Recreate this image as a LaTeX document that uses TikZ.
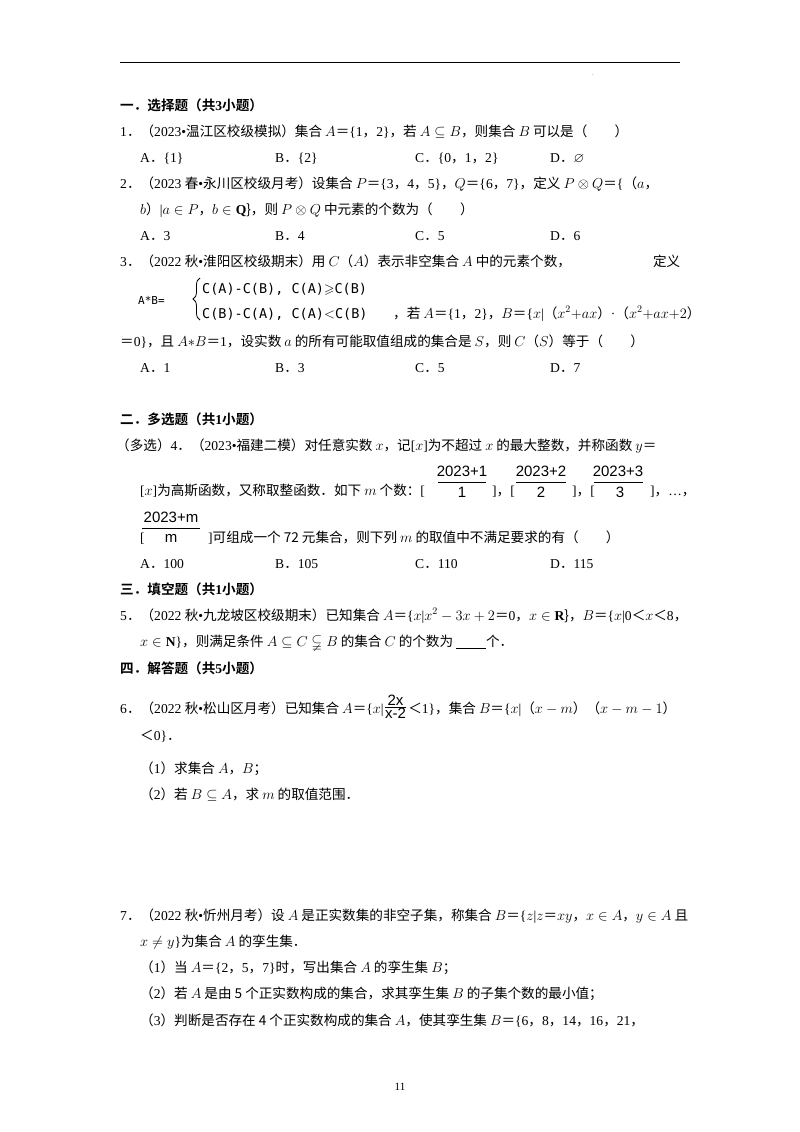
\documentclass[tikz,border=0pt]{standalone}
\usepackage{amssymb}
\usepackage{fontspec}
\usetikzlibrary{decorations.pathreplacing}
\setmainfont{Liberation Serif}
\newfontfamily\lat{Liberation Serif}
\newfontfamily\cjk{Noto Sans CJK SC}[BoldFont={Noto Sans CJK SC Bold}]
\newfontfamily\pw{DejaVu Sans Mono}
\newfontfamily\fr{Liberation Sans}
\XeTeXinterchartokenstate=1
\newXeTeXintercharclass\CJKcls
\newcount\cc
\def\setcls#1#2{\cc=#1 \loop \XeTeXcharclass\cc=\CJKcls \ifnum\cc<#2 \advance\cc by 1 \repeat}
\setcls{"4E00}{"9FFF}
\setcls{"3000}{"303F}
\setcls{"FF00}{"FFEF}
\XeTeXinterchartoks 0 \CJKcls = {\cjk}
\XeTeXinterchartoks 4095 \CJKcls = {\cjk}
\XeTeXinterchartoks \CJKcls 0 = {\lat}
\begin{document}
\begin{tikzpicture}[x=1pt,y=-1pt,
  T/.style={anchor=base west,inner sep=0pt,font=\fontsize{13.6}{16}\selectfont},
  H/.style={T,font=\fontsize{13.6}{16}\selectfont\bfseries},
  P/.style={anchor=base west,inner sep=0pt,font=\pw\fontsize{13.5}{16}\selectfont},
  F/.style={anchor=base,inner sep=0pt,font=\fr\fontsize{15}{16}\selectfont}]
\useasboundingbox (0,0) rectangle (800,1132);
\fill[white] (0,0) rectangle (800,1132);
\draw[line width=1pt] (120,63) -- (680,63);
\node[inner sep=0pt,font=\fontsize{5}{6}\selectfont] (dot) at (593,75) {.};
% section 1
\node[H] (h1) at (120,110) {一．选择题（共3小题）};
\node[T] (q1) at (120,136) {1．（2023•温江区校级模拟）集合 $A$＝\{1，2\}，若 $A\subseteq B$，则集合 $B$ 可以是（\qquad）};
\node[T] (q1a) at (140,162) {A．\{1\}};
\node[T] (q1b) at (275,162) {B．\{2\}};
\node[T] (q1c) at (415,162) {C．\{0，1，2\}};
\node[T] (q1d) at (550,162) {D．$\varnothing$};
\node[T] (q2) at (120,188) {2．（2023 春•永川区校级月考）设集合 $P$＝\{3，4，5\}，$Q$＝\{6，7\}，定义 $P\otimes Q$＝\{（$a$，};
\node[T] (q2l) at (140,214) {$b$）|$a\in P$，$b\in\mathbf{Q}$\}，则 $P\otimes Q$ 中元素的个数为（\qquad）};
\node[T] (q2a) at (140,240) {A．3};
\node[T] (q2b) at (275,240) {B．4};
\node[T] (q2c) at (415,240) {C．5};
\node[T] (q2d) at (550,240) {D．6};
\node[T,text width=560pt,align=justify] (q3) at (120,266) {3．（2022 秋•淮阳区校级期末）用 $C$（$A$）表示非空集合 $A$ 中的元素个数，\hfill 定义};
\node[P,font=\pw\fontsize{11}{12}\selectfont] (ab) at (138,304) {A*B=};
\draw[decorate,decoration={brace,amplitude=7pt},line width=0.8pt] (200,320) -- (200,278);
\node[P] (pw1) at (202,293) {C(A)-C(B), C(A)$\geqslant$C(B)};
\node[P] (pw2) at (202,318) {C(B)-C(A), C(A)$<$C(B)};
\node[T] (q3b) at (393,318) {，若 $A$＝\{1，2\}，$B$＝\{$x$|（$x^2{+}ax$）·（$x^2{+}ax{+}2$）};
\node[T] (q3c) at (120,346) {＝0\}，且 $A{*}B$＝1，设实数 $a$ 的所有可能取值组成的集合是 $S$，则 $C$（$S$）等于（\qquad）};
\node[T] (q3a) at (140,372) {A．1};
\node[T] (q3bb) at (275,372) {B．3};
\node[T] (q3cc) at (415,372) {C．5};
\node[T] (q3d) at (550,372) {D．7};
% section 2
\node[H] (h2) at (120,424) {二．多选题（共1小题）};
\node[T] (q4) at (116,450) {（多选）4．（2023•福建二模）对任意实数 $x$，记[$x$]为不超过 $x$ 的最大整数，并称函数 $y$＝};
\node[T] (q4b) at (140,495) {[$x$]为高斯函数，又称取整函数．如下 $m$ 个数：[};
\node[F] (n1) at (462,476) {2023+1};
\draw (438,482) -- (486,482);
\node[F] (d1) at (462,497) {1};
\node[T] (b1) at (492,495) {]，[};
\node[F] (n2) at (541,476) {2023+2};
\draw (516,482) -- (566,482);
\node[F] (d2) at (541,497) {2};
\node[T] (b2) at (572,495) {]，[};
\node[F] (n3) at (618,476) {2023+3};
\draw (594,482) -- (643,482);
\node[F] (d3) at (620,497) {3};
\node[T] (b3) at (650,495) {]，…，};
\node[F] (n4) at (171,522) {2023+m};
\draw (142,528) -- (200,528);
\node[T] (b4) at (140,542) {[};
\node[F] (d4) at (171,542) {m};
\node[T] (q4c) at (208,542) {]可组成一个 72 元集合，则下列 $m$ 的取值中不满足要求的有（\qquad）};
\node[T] (q4a) at (140,568) {A．100};
\node[T] (q4bb) at (275,568) {B．105};
\node[T] (q4cc) at (415,568) {C．110};
\node[T] (q4d) at (550,568) {D．115};
% section 3
\node[H] (h3) at (120,594) {三．填空题（共1小题）};
\node[T] (q5) at (120,620) {5．（2022 秋•九龙坡区校级期末）已知集合 $A$＝\{$x$|$x^2-3x+2$＝0，$x\in\mathbf{R}$\}，$B$＝\{$x$|0＜$x$＜8，};
\node[T] (q5b) at (140,646) {$x\in\mathbf{N}$\}，则满足条件 $A\subseteq C\subsetneqq B$ 的集合 $C$ 的个数为 \underline{\hspace{2.2em}}个．};
% section 4
\node[H] (h4) at (120,673) {四．解答题（共5小题）};
\node[T] (q6) at (120,713) {6．（2022 秋•松山区月考）已知集合 $A$＝\{$x$|};
\node[F,anchor=base west] (d6) at ([xshift=1pt,yshift=-5pt]q6.base east) {x-2};
\draw (d6.north west) -- (d6.north east);
\node[F,anchor=south] (n6) at ([yshift=2pt]d6.north) {2x};
\node[T] (q6b) at ([xshift=2pt,yshift=5pt]d6.base east) {＜1\}，集合 $B$＝\{$x$|（$x-m$）（$x-m-1$）};
\node[T] (q6c) at (140,740) {＜0\}．};
\node[T] (q61) at (140,773) {（1）求集合 $A$，$B$；};
\node[T] (q62) at (140,799) {（2）若 $B\subseteq A$，求 $m$ 的取值范围．};
\node[T] (q7) at (120,920) {7．（2022 秋•忻州月考）设 $A$ 是正实数集的非空子集，称集合 $B$＝\{$z$|$z$＝$xy$，$x\in A$，$y\in A$ 且};
\node[T] (q7b) at (140,946) {$x\neq y$\}为集合 $A$ 的孪生集．};
\node[T] (q71) at (140,972) {（1）当 $A$＝\{2，5，7\}时，写出集合 $A$ 的孪生集 $B$；};
\node[T] (q72) at (140,998) {（2）若 $A$ 是由 5 个正实数构成的集合，求其孪生集 $B$ 的子集个数的最小值；};
\node[T] (q73) at (140,1025) {（3）判断是否存在 4 个正实数构成的集合 $A$，使其孪生集 $B$＝\{6，8，14，16，21，};
\node[inner sep=0pt,font=\fontsize{11}{12}\selectfont] (pg) at (400,1087) {11};
\end{tikzpicture}
\end{document}
